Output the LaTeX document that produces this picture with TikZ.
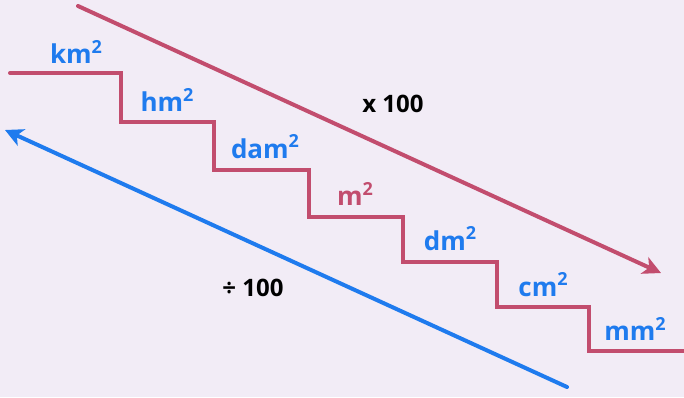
\documentclass[tikz,border=0pt]{standalone}
\usepackage{fontspec}
\setmainfont{Open Sans}
\usetikzlibrary{arrows.meta}
\definecolor{bg}{HTML}{F2ECF6}
\definecolor{stair}{HTML}{C24D6E}
\definecolor{blu}{HTML}{1F7BEE}
\newcommand{\sqsup}{\raisebox{0.42em}{\fontsize{18}{20}\selectfont 2}}
\tikzset{
  unit/.style={font=\fontsize{26}{28}\selectfont\bfseries, text=blu, inner sep=0pt},
  factor/.style={font=\fontsize{24}{28}\selectfont\bfseries, text=black, inner sep=0pt},
  line/.style={line width=4pt},
}
\begin{document}
\begin{tikzpicture}[x=1pt,y=-1pt]
\fill[bg] (0,0) rectangle (684,397);
\useasboundingbox (0,0) rectangle (684,397);
% staircase
\draw[line, stair, line cap=round, line join=miter]
  (10,73) -- (121,73) -- (121,122) -- (214,122) -- (214,170) -- (309,170)
  -- (309,217) -- (403,217) -- (403,262) -- (497,262) -- (497,307)
  -- (589,307) -- (589,351) -- (690,351);
% arrows
\coordinate (rs) at (78,6);
\coordinate (re) at (661,273);
\coordinate (bs) at (567,387);
\coordinate (be) at (5,130);
\draw[line, stair, line cap=round, -{Stealth[length=18pt,width=18pt,inset=5pt]}] (rs) -- (re);
\draw[line, blu, line cap=round, -{Stealth[length=18pt,width=18pt,inset=5pt]}] (bs) -- (be);
% labels
\node[unit] (km) at (76,52) {km\sqsup};
\node[unit] (hm) at (167,100) {hm\sqsup};
\node[unit] (dam) at (265,147) {dam\sqsup};
\node[unit, text=stair] (m) at (355,194) {m\sqsup};
\node[unit] (dm) at (450,239) {dm\sqsup};
\node[unit] (cm) at (543,285) {cm\sqsup};
\node[unit] (mm) at (635,329) {mm\sqsup};
\node[factor] (mul) at (393,104) {x 100};
\node[factor] (div) at (253,288) {÷ 100};
\end{tikzpicture}
\end{document}
